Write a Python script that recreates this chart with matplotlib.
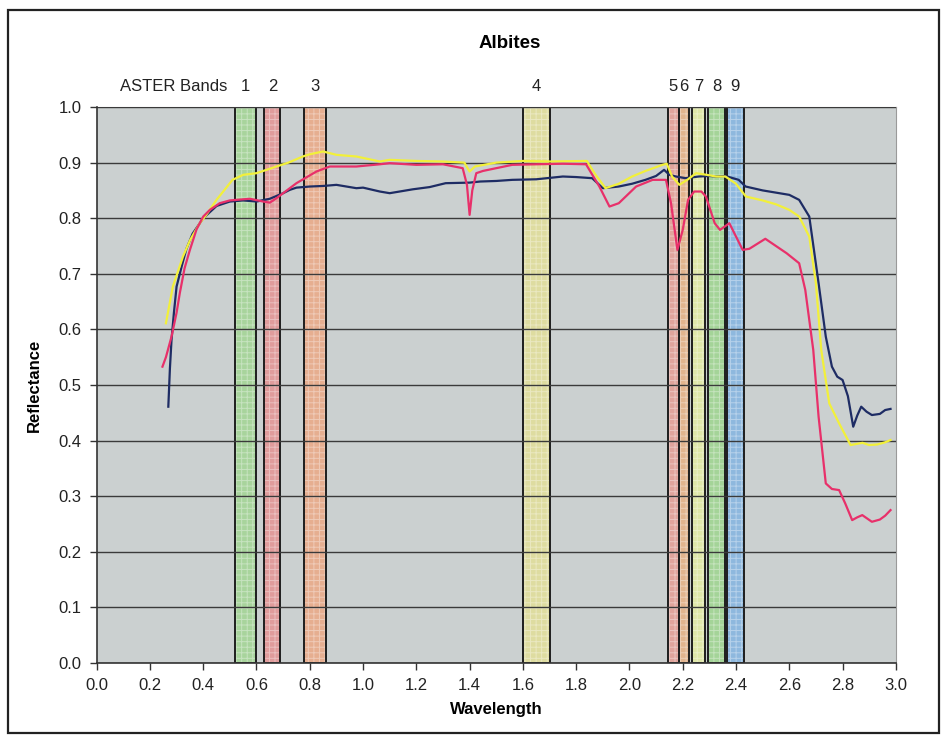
import matplotlib
matplotlib.use("Agg")
import matplotlib.pyplot as plt
from matplotlib.colors import to_rgb
from matplotlib.patches import Rectangle

plt.rcParams['font.family'] = ['Liberation Sans', 'DejaVu Sans']
plt.rcParams['hatch.linewidth'] = 0.7

# ASTER band limits (micrometres)
band_names = ['1', '2', '3', '4', '5', '6', '7', '8', '9']
band_lo = [0.52, 0.63, 0.78, 1.60, 2.145, 2.185, 2.235, 2.295, 2.360]
band_hi = [0.60, 0.69, 0.86, 1.70, 2.185, 2.225, 2.285, 2.365, 2.430]
band_colors = ['#a8d49c', '#e09c9c', '#e6ae90', '#dedca0', '#e0a49c',
               '#e2b48e', '#dee6a8', '#a4d498', '#8eb8de']

# spectrum 1 (navy)
wl_blue = [0.269, 0.275, 0.281, 0.29, 0.30, 0.32, 0.337, 0.36, 0.40, 0.45, 0.50,
           0.55, 0.60, 0.65, 0.70, 0.725, 0.75, 0.80, 0.85, 0.90, 0.975, 1.0,
           1.063, 1.1, 1.187, 1.25, 1.31, 1.40, 1.44, 1.50, 1.56, 1.65, 1.75,
           1.80, 1.86, 1.90, 1.96, 2.01, 2.06, 2.10, 2.13, 2.15, 2.175, 2.21,
           2.26, 2.30, 2.325, 2.36, 2.41, 2.436, 2.50, 2.55, 2.60, 2.637, 2.675,
           2.71, 2.737, 2.76, 2.78, 2.80, 2.82, 2.84, 2.855, 2.87, 2.89, 2.91,
           2.94, 2.96, 2.98]
refl_blue = [0.461, 0.53, 0.581, 0.63, 0.677, 0.715, 0.745, 0.772, 0.80, 0.822, 0.83,
             0.832, 0.83, 0.835, 0.845, 0.851, 0.855, 0.857, 0.858, 0.860, 0.854, 0.855,
             0.848, 0.845, 0.852, 0.856, 0.863, 0.864, 0.866, 0.867, 0.869, 0.870, 0.875,
             0.874, 0.872, 0.854, 0.857, 0.862, 0.869, 0.876, 0.887, 0.878, 0.875, 0.872,
             0.875, 0.876, 0.875, 0.876, 0.869, 0.857, 0.850, 0.846, 0.842, 0.833, 0.803,
             0.683, 0.587, 0.533, 0.515, 0.509, 0.48, 0.425, 0.445, 0.461, 0.452, 0.446,
             0.448, 0.455, 0.457]

# spectrum 2 (crimson)
wl_red = [0.247, 0.26, 0.281, 0.30, 0.312, 0.33, 0.35, 0.375, 0.40, 0.425, 0.462,
          0.50, 0.525, 0.575, 0.625, 0.65, 0.675, 0.70, 0.75, 0.80, 0.825, 0.875,
          0.975, 1.063, 1.1, 1.2, 1.30, 1.374, 1.39, 1.40, 1.41, 1.425, 1.45, 1.50,
          1.56, 1.65, 1.75, 1.837, 1.887, 1.925, 1.96, 2.025, 2.087, 2.124, 2.137,
          2.156, 2.18, 2.20, 2.22, 2.243, 2.27, 2.287, 2.32, 2.34, 2.375, 2.425,
          2.45, 2.51, 2.59, 2.637, 2.66, 2.69, 2.71, 2.737, 2.76, 2.787, 2.81,
          2.836, 2.855, 2.874, 2.91, 2.94, 2.96, 2.98]
refl_red = [0.533, 0.55, 0.587, 0.63, 0.665, 0.71, 0.743, 0.78, 0.803, 0.815, 0.827,
            0.832, 0.833, 0.835, 0.83, 0.828, 0.836, 0.845, 0.863, 0.877, 0.884, 0.893,
            0.893, 0.897, 0.899, 0.896, 0.897, 0.89, 0.86, 0.806, 0.85, 0.881, 0.885, 0.89,
            0.896, 0.897, 0.898, 0.897, 0.857, 0.821, 0.827, 0.857, 0.869, 0.869, 0.869,
            0.827, 0.743, 0.779, 0.833, 0.848, 0.848, 0.839, 0.791, 0.779, 0.791, 0.743,
            0.745, 0.763, 0.737, 0.719, 0.671, 0.563, 0.443, 0.323, 0.313, 0.311, 0.287,
            0.257, 0.262, 0.266, 0.254, 0.258, 0.265, 0.275]

# spectrum 3 (yellow)
wl_yellow = [0.26, 0.286, 0.324, 0.35, 0.387, 0.41, 0.45, 0.51, 0.55, 0.60, 0.675,
             0.72, 0.774, 0.80, 0.85, 0.90, 0.975, 1.063, 1.1, 1.2, 1.3, 1.38, 1.40,
             1.42, 1.5, 1.6, 1.7, 1.84, 1.87, 1.91, 1.96, 2.01, 2.06, 2.124, 2.14,
             2.16, 2.187, 2.22, 2.25, 2.29, 2.325, 2.36, 2.40, 2.437, 2.50, 2.55,
             2.60, 2.637, 2.675, 2.70, 2.72, 2.75, 2.787, 2.83, 2.875, 2.90, 2.93,
             2.96, 2.98]
refl_yellow = [0.611, 0.677, 0.731, 0.76, 0.791, 0.805, 0.833, 0.869, 0.878, 0.881, 0.893,
               0.90, 0.911, 0.915, 0.92, 0.914, 0.911, 0.902, 0.905, 0.903, 0.902, 0.9, 0.884,
               0.893, 0.9, 0.903, 0.902, 0.903, 0.88, 0.854, 0.862, 0.875, 0.885, 0.896, 0.898,
               0.875, 0.86, 0.87, 0.881, 0.878, 0.875, 0.875, 0.862, 0.839, 0.832, 0.825,
               0.815, 0.803, 0.767, 0.683, 0.563, 0.467, 0.431, 0.392, 0.396, 0.392, 0.393,
               0.397, 0.401]


def lighten(color, amount):
    r, g, b = to_rgb(color)
    return (r + (1 - r) * amount, g + (1 - g) * amount, b + (1 - b) * amount)


fig = plt.figure(figsize=(9.43, 7.37), dpi=100)
ax = fig.add_axes([0.1025, 0.1004, 0.8475, 0.7544])
ax.set_facecolor('#cbd0d0')

# outer frame around the whole chart
fig.patches.append(Rectangle((8 / 943, 4 / 737), 931 / 943, 723 / 737,
                             transform=fig.transFigure, fill=False,
                             edgecolor='#222222', linewidth=1.6))

for lo, hi, c, name in zip(band_lo, band_hi, band_colors, band_names):
    ax.axvspan(lo, hi, facecolor=c, edgecolor=lighten(c, 0.35), hatch='+++',
               linewidth=0, zorder=1)
    ax.axvspan(lo, hi, fill=False, edgecolor='#1e1e1e', linewidth=1.4, zorder=2.5)
    ax.text((lo + hi) / 2, 1.036, name, ha='center', va='center', fontsize=12,
            color='#222222', clip_on=False)
ax.text(0.49, 1.036, 'ASTER Bands', ha='right', va='center', fontsize=12,
        color='#222222', clip_on=False)

ax.plot(wl_blue, refl_blue, color='#1e2c64', linewidth=1.6, zorder=3)
ax.plot(wl_yellow, refl_yellow, color='#f2f03a', linewidth=1.6, zorder=3.1)
ax.plot(wl_red, refl_red, color='#e8306a', linewidth=1.6, zorder=3.2)

ax.set_xlim(0, 3.0)
ax.set_ylim(0, 1.0)
ax.set_xticks([i / 5 for i in range(16)])
ax.set_yticks([i / 10 for i in range(11)])
ax.set_xticklabels(['%.1f' % (i / 5) for i in range(16)])
ax.set_yticklabels(['%.1f' % (i / 10) for i in range(11)])
ax.tick_params(direction='out', length=5, width=1, color='#333333',
               labelsize=12, labelcolor='#222222', pad=6)
ax.yaxis.grid(True, color='#3a3a3a', linewidth=1.0, zorder=2)
ax.set_axisbelow(False)
for side in ['top', 'right']:
    ax.spines[side].set_color('#9a9a9a')
for side in ['left', 'bottom']:
    ax.spines[side].set_color('#333333')
    ax.spines[side].set_linewidth(1.2)

ax.set_xlabel('Wavelength', fontsize=12, fontweight='bold', labelpad=6)
ax.set_ylabel('Reflectance', fontsize=12, fontweight='bold', labelpad=12)
fig.text(510 / 943, 1 - 43 / 737, 'Albites', ha='center', va='center',
         fontsize=13.5, fontweight='bold')

fig.savefig('out.png', dpi=100)
